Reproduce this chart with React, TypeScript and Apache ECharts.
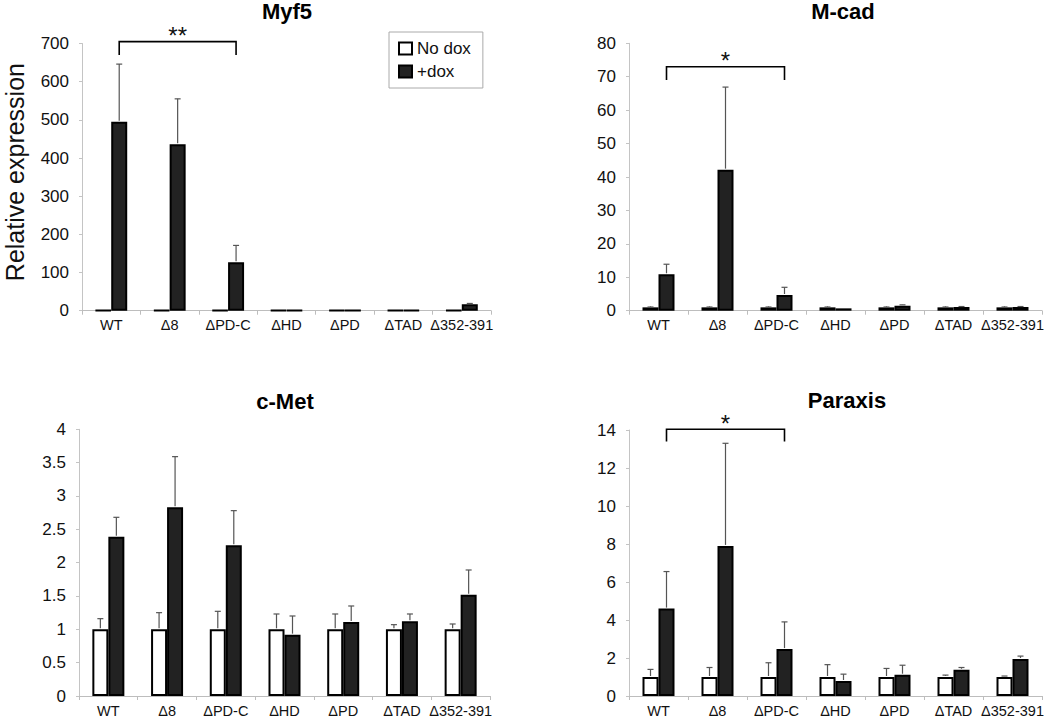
import React, { useEffect, useRef } from "react";
import * as echarts from "echarts";

const CATEGORIES = ["WT", "Δ8", "ΔPD-C", "ΔHD", "ΔPD", "ΔTAD", "Δ352-391"];
const SERIES_NAMES = ["No dox", "+dox"];

const TITLES = ["Myf5", "M-cad", "c-Met", "Paraxis"];
const Y_MAX = [700, 80, 4, 14];
const Y_INTERVAL = [100, 10, 0.5, 2];

const MYF5_NODOX = [1, 1, 1, 1, 1, 1, 1];
const MYF5_NODOX_ERR = [0, 0, 0, 0, 0, 0, 0];
const MYF5_DOX = [495, 436, 127, 1, 0.4, 1, 17];
const MYF5_DOX_ERR = [151, 119, 44, 0, 0, 0, 2];

const MCAD_NODOX = [1, 1, 1, 1, 1, 1, 1];
const MCAD_NODOX_ERR = [0.1, 0.1, 0.1, 0.1, 0.1, 0.1, 0.1];
const MCAD_DOX = [10.9, 42.2, 4.7, 0.7, 1.5, 1.1, 1.1];
const MCAD_DOX_ERR = [3, 24.7, 2.3, 0, 0.25, 0.15, 0.15];

const CMET_NODOX = [1, 1, 1, 1, 1, 1, 1];
const CMET_NODOX_ERR = [0.16, 0.25, 0.27, 0.23, 0.23, 0.07, 0.08];
const CMET_DOX = [2.39, 2.83, 2.26, 0.92, 1.11, 1.12, 1.52];
const CMET_DOX_ERR = [0.29, 0.76, 0.52, 0.28, 0.24, 0.11, 0.37];

const PARAXIS_NODOX = [1, 1, 1, 1, 1, 1, 1];
const PARAXIS_NODOX_ERR = [0.4, 0.5, 0.75, 0.65, 0.45, 0.1, 0.05];
const PARAXIS_DOX = [4.6, 7.9, 2.47, 0.79, 1.12, 1.38, 1.95];
const PARAXIS_DOX_ERR = [1.95, 5.4, 1.43, 0.36, 0.5, 0.12, 0.15];

// significance: [fromCategory, toCategory, bracketTop, bracketBottom, label]
const MYF5_SIG = [0, 2, 705, 670, "**"];
const MCAD_SIG = [0, 2, 73, 69, "*"];
const PARAXIS_SIG = [0, 2, 14.04, 13.39, "*"];

const PANELS = [
  { nodox: MYF5_NODOX, nodoxErr: MYF5_NODOX_ERR, dox: MYF5_DOX, doxErr: MYF5_DOX_ERR, sig: MYF5_SIG },
  { nodox: MCAD_NODOX, nodoxErr: MCAD_NODOX_ERR, dox: MCAD_DOX, doxErr: MCAD_DOX_ERR, sig: MCAD_SIG },
  { nodox: CMET_NODOX, nodoxErr: CMET_NODOX_ERR, dox: CMET_DOX, doxErr: CMET_DOX_ERR, sig: null },
  { nodox: PARAXIS_NODOX, nodoxErr: PARAXIS_NODOX_ERR, dox: PARAXIS_DOX, doxErr: PARAXIS_DOX_ERR, sig: PARAXIS_SIG },
];

const GRIDS = [
  { left: 82, top: 43.5, width: 409, height: 267.2 },
  { left: 629, top: 43.3, width: 413, height: 267.4 },
  { left: 79, top: 429.3, width: 411, height: 266.7 },
  { left: 629, top: 430, width: 413, height: 266.7 },
];
const TITLE_POS = [
  { x: 287, y: 0 },
  { x: 843, y: 0 },
  { x: 285, y: 390 },
  { x: 847, y: 389 },
];

const FONT = "'Liberation Sans', Arial, Helvetica, sans-serif";
const BAR_W = 16;

export default function App() {
  const ref = useRef<HTMLDivElement>(null);

  useEffect(() => {
    if (!ref.current) return;
    const chart = echarts.init(ref.current, undefined, { renderer: "svg" });

    const xAxis: any[] = [];
    const yAxis: any[] = [];
    const series: any[] = [];

    GRIDS.forEach((g, i) => {
      xAxis.push({
        gridIndex: i,
        type: "category",
        data: CATEGORIES,
        axisLine: { lineStyle: { color: "#bdbdbd", width: 1 } },
        axisTick: { show: true, length: 4, lineStyle: { color: "#bdbdbd" } },
        axisLabel: { color: "#111", fontSize: 14.5, fontFamily: FONT, margin: 7, interval: 0 },
        splitLine: { show: false },
      });
      yAxis.push({
        gridIndex: i,
        type: "value",
        min: 0,
        max: Y_MAX[i],
        interval: Y_INTERVAL[i],
        axisLine: { show: true, lineStyle: { color: "#c4c4c4", width: 1 } },
        axisTick: { show: true, length: 3, lineStyle: { color: "#c4c4c4" } },
        axisLabel: { color: "#111", fontSize: 17, fontFamily: FONT, margin: 13 },
        splitLine: { show: false },
        name: i === 0 ? "Relative expression" : "",
        nameLocation: "middle",
        nameGap: 55,
        nameTextStyle: { color: "#111", fontSize: 25, fontFamily: FONT, padding: [0, 0, 0, 10] },
      });

      const p = PANELS[i];
      const vals = [p.nodox, p.dox];
      const errs = [p.nodoxErr, p.doxErr];
      [0, 1].forEach((s) => {
        series.push({
          type: "bar",
          name: SERIES_NAMES[s],
          xAxisIndex: i,
          yAxisIndex: i,
          data: vals[s],
          barWidth: BAR_W,
          barGap: "0%",
          itemStyle: {
            color: s === 0 ? "#ffffff" : "#222222",
            borderColor: "#000",
            borderWidth: 2,
          },
          z: 2,
        });
      });
      [0, 1].forEach((s) => {
        const side = s === 0 ? -1 : 1;
        series.push({
          type: "custom",
          name: "err" + i + "_" + s,
          xAxisIndex: i,
          yAxisIndex: i,
          clip: false,
          z: 3,
          data: vals[s].map((v, k) => [k, v, errs[s][k]]),
          renderItem: (params: any, api: any) => {
            const c = api.value(0);
            const v = api.value(1);
            const e = api.value(2);
            if (!e) return { type: "group", children: [] };
            const base = api.coord([c, v]);
            const top = api.coord([c, v + e]);
            const x = base[0] + (side * BAR_W) / 2;
            return {
              type: "group",
              children: [
                {
                  type: "line",
                  shape: { x1: x, y1: base[1] - 1, x2: x, y2: top[1] },
                  style: { stroke: "#555", lineWidth: 1.2 },
                },
                {
                  type: "line",
                  shape: { x1: x - 3, y1: top[1], x2: x + 3, y2: top[1] },
                  style: { stroke: "#555", lineWidth: 1.2 },
                },
              ],
            };
          },
        });
      });

      if (p.sig) {
        series.push({
          type: "custom",
          name: "sig" + i,
          xAxisIndex: i,
          yAxisIndex: i,
          clip: false,
          z: 4,
          data: [p.sig.slice(0, 4)],
          renderItem: (params: any, api: any) => {
            const a = api.value(0);
            const b = api.value(1);
            const t = api.value(2);
            const bt = api.value(3);
            const pa = api.coord([a, t]);
            const pb = api.coord([b, t]);
            const pab = api.coord([a, bt]);
            const x1 = pa[0] + BAR_W / 2;
            const x2 = pb[0] + BAR_W / 2;
            return {
              type: "group",
              children: [
                {
                  type: "polyline",
                  shape: { points: [[x1, pab[1]], [x1, pa[1]], [x2, pa[1]], [x2, pab[1]]] },
                  style: { stroke: "#000", lineWidth: 1.6, fill: "none" },
                },
                {
                  type: "text",
                  style: {
                    x: (x1 + x2) / 2,
                    y: pa[1] + 6,
                    text: p.sig![4] as string,
                    fill: "#111",
                    fontSize: 24,
                    fontFamily: FONT,
                    align: "center",
                    verticalAlign: "bottom",
                  },
                },
              ],
            };
          },
        });
      }
    });

    chart.setOption({
      animation: false,
      backgroundColor: "#ffffff",
      title: TITLES.map((t, i) => ({
        text: t,
        left: TITLE_POS[i].x,
        top: TITLE_POS[i].y,
        textAlign: "center",
        padding: 0,
        textStyle: { fontSize: 22, fontWeight: "bold", color: "#000", fontFamily: FONT },
      })),
      legend: {
        data: SERIES_NAMES,
        orient: "vertical",
        left: 389,
        top: 32,
        icon: "rect",
        itemWidth: 13,
        itemHeight: 12,
        itemGap: 6,
        padding: [8, 12, 8, 9],
        borderColor: "#aaaaaa",
        borderWidth: 1,
        textStyle: { fontSize: 17, color: "#111", fontFamily: FONT },
        selectedMode: false,
      },
      grid: GRIDS.map((g) => ({ ...g, containLabel: false })),
      xAxis,
      yAxis,
      series,
    });

    return () => chart.dispose();
  }, []);

  return (
    <div
      ref={ref}
      style={{ position: "absolute", left: 0, top: 0, width: 1050, height: 718, background: "#fff" }}
    />
  );
}
